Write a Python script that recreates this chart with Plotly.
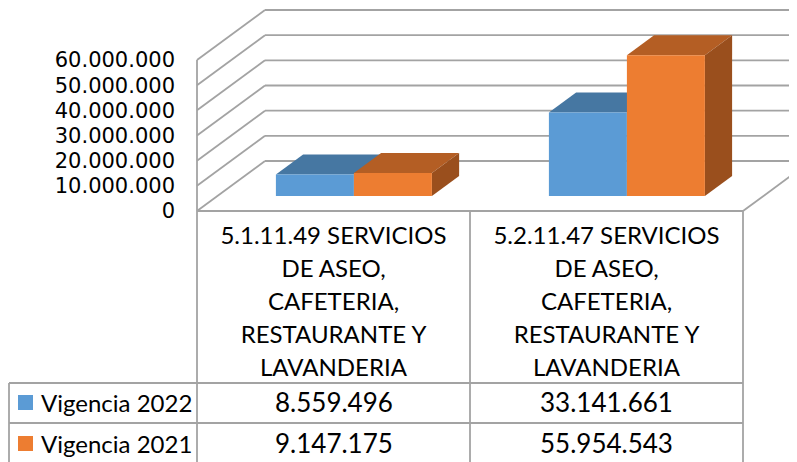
import plotly.graph_objects as go

# ---------------- data ----------------
categories = [
    "5.1.11.49 SERVICIOS\nDE ASEO,\nCAFETERIA,\nRESTAURANTE Y\nLAVANDERIA",
    "5.2.11.47 SERVICIOS\nDE ASEO,\nCAFETERIA,\nRESTAURANTE Y\nLAVANDERIA",
]
series_names = ["Vigencia 2022", "Vigencia 2021"]
vigencia_2022 = [8559496, 33141661]
vigencia_2021 = [9147175, 55954543]
y_ticks = [0, 10000000, 20000000, 30000000, 40000000, 50000000, 60000000]

series_values = [vigencia_2022, vigencia_2021]
front_colors = ["#5B9BD5", "#ED7D31"]
top_colors = ["#4677A2", "#B45E24"]
side_colors = ["#3D6890", "#9A4F1D"]

# ---------------- geometry (layout) ----------------
WIN_W, WIN_H = 797, 462
OFF = 8                                # page body margin
FW, FH = WIN_W - OFF, WIN_H - OFF      # figure size
X0_PX, CAT_PX = 197.0, 273.0           # left edge of first category, width of category (window px)
Y0_PX, PX_PER_UNIT = 211.0, 151.0 / 60e6
DEPTH_DX_PX, DEPTH_DY_PX = 68.0, 50.0

DX = DEPTH_DX_PX / CAT_PX              # depth shift in x units
DY = DEPTH_DY_PX / PX_PER_UNIT         # depth shift in y units
x_range = [-(X0_PX - OFF) / CAT_PX, (WIN_W - X0_PX) / CAT_PX]
y_range = [(Y0_PX - WIN_H) / PX_PER_UNIT, (Y0_PX - OFF) / PX_PER_UNIT]

BAR_DEPTH0 = 0.3
BAR_DEPTH = 0.4
BAR_W = 78.0 / CAT_PX


def py(p):  # window pixel y -> paper
    return 1 - (p - OFF) / FH


def px(p):  # window pixel x -> paper
    return (p - OFF) / FW


fig = go.Figure()
shapes = []
grid_line = dict(color="#A3A3A3", width=1.8)

# walls / gridlines
for t in y_ticks:
    shapes.append(dict(type="line", xref="x", yref="y", x0=0, y0=t, x1=DX, y1=t + DY,
                       line=grid_line, layer="below"))
    shapes.append(dict(type="line", xref="x", yref="y", x0=DX, y0=t + DY, x1=x_range[1] + 1, y1=t + DY,
                       line=grid_line, layer="below"))
shapes.append(dict(type="line", xref="x", yref="y", x0=0, y0=0, x1=0, y1=y_ticks[-1],
                   line=grid_line, layer="below"))
shapes.append(dict(type="line", xref="x", yref="y", x0=len(categories), y0=0,
                   x1=len(categories) + DX, y1=DY, line=grid_line, layer="below"))

# 3D bars: front faces as bar traces, top and side faces as paths
n = len(categories)
for s, (name, vals) in enumerate(zip(series_names, series_values)):
    xs, bases = [], []
    for i, v in enumerate(vals):
        center = i + 0.5 + BAR_DEPTH0 * DX
        xl = center - BAR_W + s * BAR_W
        xr = xl + BAR_W
        b = BAR_DEPTH0 * DY
        top = b + v
        ddx, ddy = BAR_DEPTH * DX, BAR_DEPTH * DY
        xs.append((xl + xr) / 2)
        bases.append(b)
        shapes.append(dict(type="path", xref="x", yref="y", layer="below",
                           path=f"M{xl},{top} L{xr},{top} L{xr+ddx},{top+ddy} L{xl+ddx},{top+ddy} Z",
                           fillcolor=top_colors[s], line=dict(width=0)))
        shapes.append(dict(type="path", xref="x", yref="y", layer="below",
                           path=f"M{xr},{b} L{xr},{top} L{xr+ddx},{top+ddy} L{xr+ddx},{b+ddy} Z",
                           fillcolor=side_colors[s], line=dict(width=0)))
    fig.add_trace(go.Bar(x=xs, y=vals, base=bases, width=BAR_W, name=name,
                         marker=dict(color=front_colors[s], line=dict(width=0)),
                         showlegend=False, hoverinfo="skip"))

# data table
table_line = dict(color="#A3A3A3", width=1.8)
row_tops = [383, 423]
for c in range(n + 1):
    shapes.append(dict(type="line", xref="x", yref="paper", x0=c, x1=c, y0=py(211), y1=py(475),
                       line=table_line))
legend_left = (9 - X0_PX) / CAT_PX
shapes.append(dict(type="line", xref="x", yref="paper", x0=legend_left, x1=legend_left,
                   y0=py(383), y1=py(475), line=table_line))
for r in row_tops:
    shapes.append(dict(type="line", xref="x", yref="paper", x0=legend_left, x1=n, y0=py(r), y1=py(r),
                       line=table_line))
shapes.append(dict(type="line", xref="x", yref="y", x0=0, y0=0, x1=n, y1=0, line=grid_line))

annotations = []
label_font = dict(family="Lato, sans-serif", size=24, color="#000000")
value_font = dict(family="Lato, sans-serif", size=26, color="#000000")
row_centers = [402, 443]
for s, (name, vals) in enumerate(zip(series_names, series_values)):
    shapes.append(dict(type="rect", xref="paper", yref="paper",
                       x0=px(18), x1=px(33), y0=py(row_centers[s] - 7), y1=py(row_centers[s] + 8),
                       fillcolor=front_colors[s], line=dict(width=0)))
    annotations.append(dict(text=name, xref="paper", yref="paper", x=px(39), y=py(row_centers[s]),
                            xanchor="left", yanchor="middle", showarrow=False, font=label_font))
    for i, v in enumerate(vals):
        annotations.append(dict(text=f"{v:,}".replace(",", "."), xref="x", yref="paper",
                                x=i + 0.5, y=py(row_centers[s]), xanchor="center", yanchor="middle",
                                showarrow=False, font=value_font))

# category labels: base size sets the line spacing, inner span sets glyph size
cat_ticktext = ["<br>".join(f'<span style="font-size:24px">{ln}</span>' for ln in c.split("\n"))
                for c in categories]

fig.update_layout(
    width=FW, height=FH,
    margin=dict(l=0, r=0, t=0, b=0, pad=0),
    paper_bgcolor="white", plot_bgcolor="white",
    barmode="overlay",
    shapes=shapes, annotations=annotations,
    xaxis=dict(range=x_range, tickvals=[i + 0.5 for i in range(n)],
               ticktext=cat_ticktext,
               anchor="free", position=py(211), showgrid=False, zeroline=False, showline=False,
               ticks="", tickfont=dict(family="Lato, sans-serif", size=25.4, color="#000000"),
               ticklabelstandoff=7, automargin=False),
    yaxis=dict(range=y_range, tickvals=y_ticks,
               ticktext=[f"{t:,}".replace(",", ".") for t in y_ticks],
               anchor="free", position=px(175), showgrid=False, zeroline=False, showline=False,
               ticks="", tickfont=dict(family="DejaVu Sans, sans-serif", size=21, color="#000000"),
               automargin=False),
)

fig.write_html("out.html")
